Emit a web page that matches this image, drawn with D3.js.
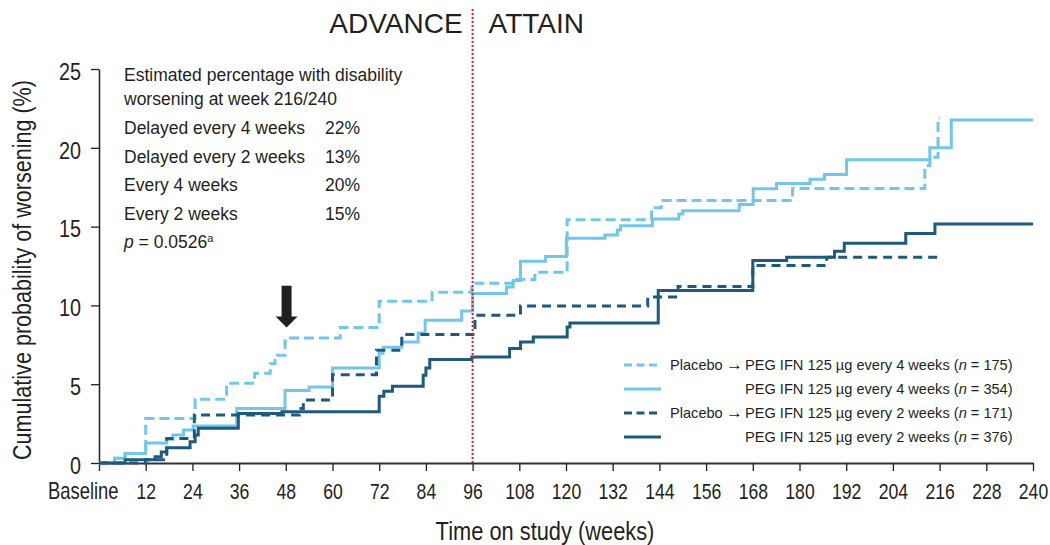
<!DOCTYPE html>
<html>
<head>
<meta charset="utf-8">
<script src="https://cdn.jsdelivr.net/npm/d3@7"></script>
<style>
  body { margin: 0; background: #fff; }
  svg text { fill: #231f20; }
</style>
</head>
<body>
<script>
// size of the picture
var w = 1050;
var h = 545;

// x ticks (weeks) and y ticks (%)
var weekTicks = [0, 12, 24, 36, 48, 60, 72, 84, 96, 108, 120, 132, 144, 156, 168, 180, 192, 204, 216, 228, 240];
var pctTicks = [0, 5, 10, 15, 20, 25];

// step curves: [week, cumulative %]
var placeboQ4 = [
  [0, 0], [4, 0.3], [6.7, 0.6], [12, 2.83], [24.7, 4.05], [32.8, 5.06], [40, 5.7], [44, 6.3],
  [45.2, 6.84], [47.8, 7.74], [48.6, 7.93], [62, 8.6], [72, 10.27], [85.6, 10.84], [95.8, 11.4],
  [106.4, 11.65], [112, 12.1], [120.3, 15.44], [142, 16.2], [144.5, 16.65], [178.2, 17.42],
  [212.2, 18.86], [213.5, 19.4], [215.6, 21.9], [216, 21.9]
];
var peg4 = [
  [0, 0], [4, 0.3], [6.7, 0.6], [12, 1.27], [17.4, 1.5], [19, 1.77], [21.7, 2.1], [24.2, 2.35],
  [35.4, 3.46], [47.8, 4.6], [54, 4.83], [60, 6.03], [72, 6.96], [73, 7.34], [77.8, 7.68],
  [82, 8.25], [83.8, 9.05], [93.2, 9.64], [96, 10.76], [104.7, 11.16], [106.4, 11.58],
  [108.3, 12.8], [114.7, 13.1], [120.1, 14.26], [130, 14.47], [133.2, 14.79], [134, 15.06],
  [142.2, 15.48], [149, 15.8], [150, 16.01], [164.5, 16.4], [168.1, 17.4], [174.1, 17.74],
  [182.7, 18.0], [186.4, 18.3], [192.1, 19.24], [213.5, 20.0], [219, 21.77], [240, 21.77]
];
var placeboQ2 = [
  [0, 0], [12, 0.2], [17.4, 1.56], [24.5, 3.04], [51.5, 3.46], [52.5, 4.0], [60, 5.6],
  [71.3, 7.15], [77.8, 8.16], [96.6, 9.37], [108.3, 9.96], [141, 10.53], [148.8, 11.2],
  [168, 12.53], [187, 13.06], [216.9, 13.06]
];
var peg2 = [
  [0, 0], [6.7, 0.2], [14.4, 0.4], [16, 0.7], [17.4, 0.97], [23.4, 1.35], [24.7, 1.77],
  [25.5, 2.2], [35.8, 3.14], [47, 3.25], [72, 4.24], [73.2, 4.56], [75.4, 4.87], [83.3, 5.57],
  [84, 6.03], [85, 6.56], [95.8, 6.73], [105.5, 7.26], [108.3, 7.68], [111.6, 8.0],
  [120.3, 8.63], [121, 8.88], [143.7, 10.95], [168, 12.85], [176.7, 13.06], [189, 13.44],
  [191.5, 13.94], [207.3, 14.57], [214.8, 15.17], [240, 15.17]
];

// legend and inset texts
var legendPrefix = ["Placebo", "", "Placebo", ""];
var legendDose = ["every 4 weeks", "every 4 weeks", "every 2 weeks", "every 2 weeks"];
var legendN = [175, 354, 171, 376];
var insetLabels = ["Delayed every 4 weeks", "Delayed every 2 weeks", "Every 4 weeks", "Every 2 weeks"];
var insetValues = ["22%", "13%", "20%", "15%"];

var lightBlue = "#72c6ee";
var darkBlue = "#1e5a80";
var regular = "'Liberation Sans', Arial, sans-serif";
// no narrow font here, so axis texts are squeezed sideways
var squeeze = 0.8;

var svg = d3.select("body")
    .append("svg")
    .attr("width", w)
    .attr("height", h)
    .attr("font-family", regular);

var x = d3.scaleLinear().domain([0, 240]).range([99, 1033]);
var y = d3.scaleLinear().domain([0, 25]).range([463, 69]);

// x axis
var xAxis = svg.append("g")
    .attr("transform", "translate(0," + y(0) + ")")
    .call(d3.axisBottom(x).tickValues(weekTicks).tickSize(8).tickSizeOuter(0).tickPadding(12)
      .tickFormat(function(d) { return d === 0 ? "Baseline" : d; }));
xAxis.select(".domain").attr("stroke", "#333").attr("stroke-width", 2);
xAxis.selectAll(".tick line").attr("stroke", "#231f20").attr("stroke-width", 1.3);
xAxis.selectAll(".tick text")
    .attr("font-family", regular)
    .attr("font-size", "22px")
    .attr("transform", "scale(" + squeeze + ",1)")
    .attr("fill", "#231f20");
xAxis.selectAll(".tick text").filter(function(d) { return d === 0; })
    .attr("text-anchor", "end")
    .attr("font-size", "23px")
    .attr("x", 19 / squeeze);

// y axis
var yAxis = svg.append("g")
    .attr("transform", "translate(" + x(0) + ",0)")
    .call(d3.axisLeft(y).tickValues(pctTicks).tickSize(8).tickSizeOuter(0).tickPadding(9));
yAxis.select(".domain").attr("stroke", "#231f20").attr("stroke-width", 1.5);
yAxis.selectAll(".tick line").attr("stroke", "#231f20").attr("stroke-width", 1.3);
yAxis.selectAll(".tick text")
    .attr("font-family", regular)
    .attr("font-size", "23px")
    .attr("x", -18 / 0.86)
    .attr("transform", "scale(0.86,1)")
    .attr("dy", "0.45em")
    .attr("fill", "#231f20");

// axis titles
svg.append("text")
    .attr("transform", "translate(545,540) scale(0.84,1)")
    .attr("text-anchor", "middle")
    .attr("font-size", "26px")
    .text("Time on study (weeks)");

svg.append("text")
    .attr("transform", "translate(31,270) rotate(-90) scale(0.83,1)")
    .attr("text-anchor", "middle")
    .attr("font-size", "26px")
    .text("Cumulative probability of worsening (%)");

// study labels
svg.append("text")
    .attr("x", x(96) - 10).attr("y", 33)
    .attr("text-anchor", "end")
    .attr("font-size", "28px")
    .text("ADVANCE");
svg.append("text")
    .attr("x", x(96) + 16).attr("y", 33)
    .attr("text-anchor", "start")
    .attr("font-size", "28px")
    .text("ATTAIN");

// curves
var line = d3.line()
    .x(function(d) { return x(d[0]); })
    .y(function(d) { return y(d[1]); })
    .curve(d3.curveStepAfter);

var series = [
  { data: peg4, color: lightBlue, dash: null },
  { data: placeboQ4, color: lightBlue, dash: "10,5" },
  { data: placeboQ2, color: darkBlue, dash: "9,6" },
  { data: peg2, color: darkBlue, dash: null }
];

svg.selectAll("path.curve")
    .data(series)
    .enter()
    .append("path")
    .attr("class", "curve")
    .attr("d", function(d) { return line(d.data); })
    .attr("fill", "none")
    .attr("stroke", function(d) { return d.color; })
    .attr("stroke-width", 3)
    .attr("stroke-dasharray", function(d) { return d.dash; });

// red dotted divider at week 96
svg.append("line")
    .attr("x1", x(96)).attr("x2", x(96))
    .attr("y1", 9).attr("y2", y(0))
    .attr("stroke", "#e0202a")
    .attr("stroke-width", 2)
    .attr("stroke-dasharray", "2,2");

// arrow pointing at week 48
var arrowWeek = 48.2, arrowTop = 11.25, arrowTip = 8.6;
var ax = x(arrowWeek), at = y(arrowTop), ab = y(arrowTip);
svg.append("path")
    .attr("d", "M" + (ax - 5) + "," + at + "H" + (ax + 5) + "V" + (ab - 11) + "H" + (ax + 11) +
      "L" + ax + "," + ab + "L" + (ax - 11) + "," + (ab - 11) + "H" + (ax - 5) + "Z")
    .attr("fill", "#231f20");

// inset text
var inset = svg.append("g").attr("font-size", "17.5px");
inset.append("text").attr("x", 124).attr("y", 81).text("Estimated percentage with disability");
inset.append("text").attr("x", 124).attr("y", 105).text("worsening at week 216/240");
insetLabels.forEach(function(lbl, i) {
  inset.append("text").attr("x", 124).attr("y", 134 + i * 28.5).text(lbl);
  inset.append("text").attr("x", 325).attr("y", 134 + i * 28.5).text(insetValues[i]);
});
var pText = inset.append("text").attr("x", 124).attr("y", 248);
pText.append("tspan").attr("font-style", "italic").text("p");
pText.append("tspan").text(" = 0.0526");
pText.append("tspan").attr("font-size", "11px").attr("dy", "-6").text("a");

// legend, same order as the reference
var legend = svg.append("g").attr("font-size", "14.6px");
var legendSeries = [series[1], series[0], series[2], series[3]];
legendSeries.forEach(function(s, i) {
  var ly = 365 + i * 24;
  legend.append("line")
      .attr("x1", 624).attr("x2", 661)
      .attr("y1", ly).attr("y2", ly)
      .attr("stroke", s.color)
      .attr("stroke-width", 3.2)
      .attr("stroke-dasharray", s.dash ? "8,4.5" : null);
  if (legendPrefix[i]) {
    legend.append("text").attr("x", 670).attr("y", ly + 5).text(legendPrefix[i]);
    legend.append("text").attr("x", 726).attr("y", ly + 5).attr("font-size", "17px").text("\u2192");
  }
  var t = legend.append("text").attr("x", 745).attr("y", ly + 5);
  t.append("tspan").text("PEG IFN 125 \u00b5g " + legendDose[i] + " (");
  t.append("tspan").attr("font-style", "italic").text("n");
  t.append("tspan").text(" = " + legendN[i] + ")");
});
</script>
</body>
</html>
